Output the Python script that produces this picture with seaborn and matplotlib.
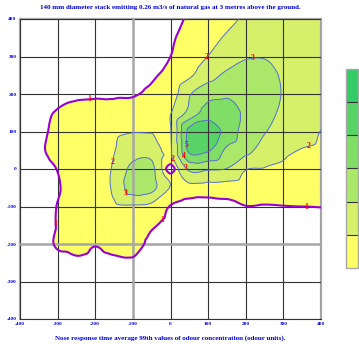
import numpy as np
import matplotlib
matplotlib.use("Agg")
import matplotlib.pyplot as plt
import matplotlib.tri as mtri
import seaborn as sns

# grid of receptor positions (metres from the stack)
xs = [-400, -350, -300, -250, -200, -150, -100, -50, 0, 50, 100, 150, 200, 250, 300, 350, 400]
ys = [400, 350, 300, 250, 200, 150, 100, 50, 0, -50, -100, -150, -200, -250, -300, -350, -400]

# 99th percentile odour concentration (OU), rows from y=400 down to y=-400
odour = [
    [0.3, 0.3, 0.3, 0.3, 0.35, 0.4, 0.5, 0.6, 0.8, 1.1, 1.5, 1.8, 2.1, 2.3, 2.4, 2.5, 2.5],
    [0.3, 0.3, 0.3, 0.35, 0.4, 0.45, 0.5, 0.65, 0.9, 1.3, 1.7, 2.1, 2.4, 2.6, 2.6, 2.5, 2.5],
    [0.3, 0.3, 0.35, 0.4, 0.45, 0.5, 0.6, 0.75, 1.0, 1.5, 2.02, 2.5, 2.9, 2.95, 2.8, 2.6, 2.5],
    [0.3, 0.35, 0.4, 0.5, 0.6, 0.7, 0.8, 0.92, 1.25, 1.85, 2.6, 3.2, 3.5, 3.3, 2.9, 2.6, 2.5],
    [0.4, 0.5, 0.75, 0.9, 0.93, 0.93, 0.95, 1.15, 1.5, 2.9, 3.7, 3.85, 3.7, 3.4, 2.95, 2.7, 2.6],
    [0.5, 0.8, 1.05, 1.15, 1.2, 1.25, 1.35, 1.6, 1.95, 3.3, 4.4, 4.5, 3.8, 3.3, 2.85, 2.5, 2.3],
    [0.6, 0.85, 1.15, 1.35, 1.6, 1.85, 1.96, 1.96, 1.95, 5.3, 5.8, 4.6, 3.6, 3.05, 2.75, 2.45, 1.97],
    [0.65, 0.9, 1.2, 1.45, 1.7, 1.97, 2.5, 2.6, 1.9, 5.2, 5.1, 3.8, 3.3, 2.6, 2.2, 1.95, 1.8],
    [0.55, 0.75, 1.02, 1.35, 1.7, 2.1, 3.3, 3.3, 0.3, 3.2, 3.1, 2.95, 2.05, 1.95, 1.85, 1.6, 1.45],
    [0.5, 0.7, 0.95, 1.3, 1.6, 2.15, 3.5, 3.3, 1.95, 1.7, 1.6, 1.55, 1.55, 1.5, 1.45, 1.4, 1.35],
    [0.45, 0.7, 1.02, 1.3, 1.5, 1.85, 1.9, 1.75, 0.95, 0.6, 0.6, 0.75, 0.98, 0.95, 0.98, 1.0, 1.02],
    [0.4, 0.7, 1.03, 1.25, 1.35, 1.45, 1.4, 1.1, 0.75, 0.5, 0.45, 0.5, 0.55, 0.55, 0.55, 0.55, 0.55],
    [0.35, 0.6, 1.08, 1.15, 1.03, 1.15, 1.2, 0.85, 0.6, 0.45, 0.45, 0.45, 0.45, 0.45, 0.45, 0.45, 0.45],
    [0.3, 0.5, 0.75, 0.9, 0.85, 0.9, 0.92, 0.7, 0.5, 0.4, 0.4, 0.4, 0.4, 0.4, 0.4, 0.4, 0.4],
    [0.3, 0.4, 0.55, 0.65, 0.65, 0.65, 0.65, 0.55, 0.45, 0.35, 0.35, 0.35, 0.35, 0.35, 0.35, 0.35, 0.35],
    [0.3, 0.35, 0.45, 0.5, 0.5, 0.5, 0.5, 0.45, 0.4, 0.3, 0.3, 0.3, 0.3, 0.3, 0.3, 0.3, 0.3],
    [0.3, 0.3, 0.35, 0.4, 0.4, 0.4, 0.4, 0.35, 0.3, 0.3, 0.3, 0.3, 0.3, 0.3, 0.3, 0.3, 0.3],
]

# a few closer receptors right around the stack
near_x = [-25, 25, 0, 0]
near_y = [0, 0, 25, -25]
near_odour = [2.1, 2.2, 1.8, 1.85]

levels = [1, 2, 3, 4, 5, 6, 7]
band_colors = ["#FFFF66", "#D6F06A", "#ABE86A", "#80DD66", "#58D466", "#33CC66"]
ticks = [-400, -300, -200, -100, 0, 100, 200, 300, 400]

title = "140 mm diameter stack emitting 0.26 m3/s of natural gas at 3 metres above the ground."
xlabel = "Nose response time average 99th values of odour concentration (odour units)."

# where the red contour numbers sit
label_spots = {
    1: [(-216, 187), (-312, -147), (-27, -133), (361, -101)],
    2: [(97, 299), (-161, 19), (363, 75), (1, 24)],
    3: [(217, 296), (-118, -64), (39, 3)],
    4: [(31, 32)],
    5: [(34, 64)],
}

sns.set_theme(style="white")
plt.rcParams["font.family"] = ["Liberation Serif", "DejaVu Serif"]
plt.rcParams["axes.unicode_minus"] = False

X, Y = np.meshgrid(xs, ys)
px = np.concatenate([X.ravel(), near_x])
py = np.concatenate([Y.ravel(), near_y])
pz = np.concatenate([np.array(odour).ravel(), near_odour])
tri = mtri.Triangulation(px, py)
interp = mtri.CubicTriInterpolator(tri, pz, kind="geom")
tri_f, z_f = mtri.UniformTriRefiner(tri).refine_field(pz, triinterpolator=interp, subdiv=4)

fig = plt.figure(figsize=(3.59, 3.44), dpi=100)
ax = fig.add_axes([20 / 359, 25 / 344, 301 / 359, 300 / 344])

cf = ax.tricontourf(tri_f, z_f, levels=levels, colors=band_colors, zorder=1)

for lev, spots in label_spots.items():
    if lev == 1:
        cs = ax.tricontour(tri_f, z_f, levels=[lev], colors="#9A00D0", linewidths=1.5, zorder=3)
    else:
        cs = ax.tricontour(tri_f, z_f, levels=[lev], colors="#5A6FD0", linewidths=0.7, zorder=3)
    cs.clabel(manual=spots, inline=False, fmt="%d", fontsize=5.5, colors="#FF0000")
for t in ax.texts:
    t.set_fontweight("bold")
    t.set_rotation(0)
    t.set_zorder(4)

ax.set_xlim(-400, 400)
ax.set_ylim(-400, 400)
ax.set_xticks(ticks)
ax.set_yticks(ticks)
ax.grid(True, color="#333333", linewidth=0.8)
ax.set_axisbelow(False)
ax.axvline(-100, color="#A8A8A8", linewidth=1.8, zorder=2.6)
ax.axhline(-200, color="#A8A8A8", linewidth=1.8, zorder=2.6)
for side in ["left", "top", "right"]:
    ax.spines[side].set_color("#A8A8A8")
    ax.spines[side].set_linewidth(1.6)
ax.spines["bottom"].set_color("#333333")
ax.spines["bottom"].set_linewidth(0.8)

ax.tick_params(length=0, labelsize=3.8, labelcolor="#0000DD", pad=2.5)
for t in ax.get_xticklabels() + ax.get_yticklabels():
    t.set_fontweight("bold")

fig.text(170.5 / 359, 1 - 8 / 344, title, ha="center", va="center",
         fontsize=5, fontweight="bold", color="#0000DD")
ax.set_xlabel(xlabel, fontsize=5, fontweight="bold", color="#0000DD", va="center")
ax.xaxis.set_label_coords(0.5, -0.063)

cax = fig.add_axes([346 / 359, 76 / 344, 12 / 359, 199 / 344])
cb = fig.colorbar(cf, cax=cax, drawedges=True)
cb.set_ticks([])
cb.outline.set_edgecolor("#A8A8A8")
cb.outline.set_linewidth(1.0)
cb.dividers.set_color("#333333")
cb.dividers.set_linewidth(0.8)

fig.savefig("out.png", dpi=100)
